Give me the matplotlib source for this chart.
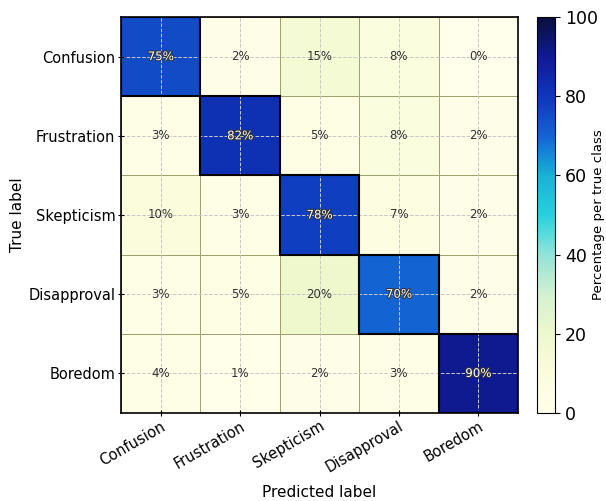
import numpy as np
import matplotlib
matplotlib.use('Agg')
import matplotlib.pyplot as plt
import matplotlib.patheffects as pe
from matplotlib.colors import LinearSegmentedColormap
from matplotlib.patches import Rectangle

labels = ['Confusion', 'Frustration', 'Skepticism', 'Disapproval', 'Boredom']
confusion = [75, 2, 15, 8, 0]
frustration = [3, 82, 5, 8, 2]
skepticism = [10, 3, 78, 7, 2]
disapproval = [3, 5, 20, 70, 2]
boredom = [4, 1, 2, 3, 90]

cm = np.array([confusion, frustration, skepticism, disapproval, boredom])
n = len(labels)

cmap = LinearSegmentedColormap.from_list('cm', [
    (0.0, '#ffffeb'), (0.1, '#fafcdc'), (0.2, '#eef8cc'), (0.3, '#d2f0d2'),
    (0.4, '#90e4d8'), (0.5, '#28d0e0'), (0.6, '#1ab0d8'), (0.7, '#1464d2'),
    (0.8, '#0e36bc'), (0.9, '#101a92'), (1.0, '#0a0e40')])

fig = plt.figure(figsize=(6.06, 5.01), dpi=100)
ax = fig.add_axes([121/606, 1-413/501, 397/606, 396/501])
cax = fig.add_axes([537/606, 1-413/501, 18/606, 396/501])

mesh = ax.pcolormesh(np.arange(n+1)-0.5, np.arange(n+1)-0.5, cm, cmap=cmap,
                     vmin=0, vmax=100, edgecolor='#a0a070', linewidth=0.6)
ax.set_xlim(-0.5, n-0.5)
ax.set_ylim(n-0.5, -0.5)

for i in range(n):
    ax.add_patch(Rectangle((i-0.5, i-0.5), 1, 1, fill=False, edgecolor='black', lw=1.5, zorder=3))
    for j in range(n):
        v = cm[i, j]
        if i == j:
            ax.text(j, i, '%d%%' % v, ha='center', va='center', fontsize=8.5, color='white', zorder=4,
                    path_effects=[pe.withStroke(linewidth=1.5, foreground='#333333')])
        else:
            ax.text(j, i, '%d%%' % v, ha='center', va='center', fontsize=8.5, color='#333333', zorder=4)

ax.set_xticks(range(n))
ax.set_yticks(range(n))
ax.set_xticklabels(labels, rotation=30, ha='right', rotation_mode='anchor', fontsize=10.5)
ax.set_yticklabels(labels, fontsize=10.5)
ax.tick_params(direction='inout', length=5, pad=1.5)
ax.grid(True, color='#c8c8c8', linestyle='--', linewidth=0.7)
ax.set_axisbelow(False)
for s in ax.spines.values():
    s.set_linewidth(1.2)
ax.set_xlabel('Predicted label', fontsize=11, labelpad=7)
ax.set_ylabel('True label', fontsize=11)
ax.yaxis.set_label_coords(-(121-25)/397, 0.5)

cb = fig.colorbar(mesh, cax=cax)
cb.set_ticks([0, 20, 40, 60, 80, 100])
cb.ax.tick_params(labelsize=12.5)
cb.set_label('Percentage per true class', fontsize=9.5)
cb.ax.yaxis.set_label_coords((592-537)/18, 0.5)

fig.savefig('out.png', dpi=100)
